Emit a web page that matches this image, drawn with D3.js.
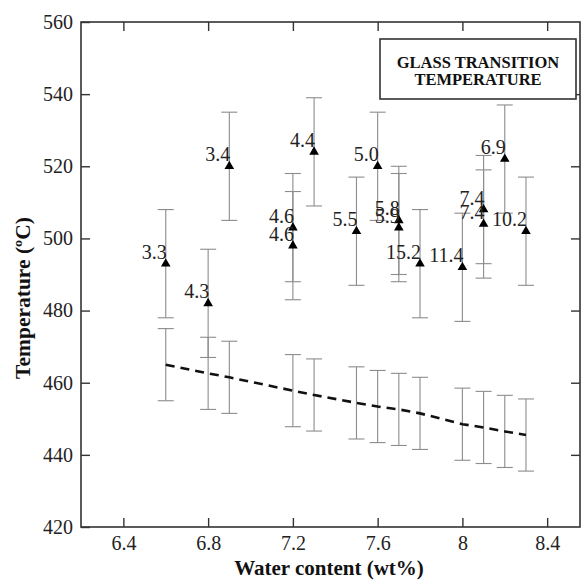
<!DOCTYPE html>
<html>
<head>
<meta charset="utf-8">
<script src="https://cdn.jsdelivr.net/npm/d3@7"></script>
<style>
body { margin: 0; background: #fff; }
text { font-family: "Liberation Serif", "DejaVu Serif", serif; }
</style>
</head>
<body>
<div id="chart"></div>
<script>
// upper series: measured glass transition points (labelled)
var upperX = [6.6, 6.8, 6.9, 7.2, 7.2, 7.3, 7.5, 7.6, 7.7, 7.7, 7.8, 8.0, 8.1, 8.1, 8.2, 8.3];
var upperY = [493, 482, 520, 503, 498, 524, 502, 520, 505, 503, 493, 492, 508, 504, 522, 502];
var upperLabels = ["3.3", "4.3", "3.4", "4.6", "4.6", "4.4", "5.5", "5.0", "5.8", "5.9", "15.2", "11.4", "7.4", "7.4", "6.9", "10.2"];
var upperErr = 15;

// lower series: dashed fit with error bars
var lowerX = [6.6, 6.8, 6.9, 7.2, 7.3, 7.5, 7.6, 7.7, 7.8, 8.0, 8.1, 8.2, 8.3];
var lowerY = [465, 462.6, 461.5, 457.8, 456.6, 454.4, 453.4, 452.6, 451.5, 448.5, 447.6, 446.5, 445.5];
var lowerErr = 10;

var xTicks = [6.4, 6.8, 7.2, 7.6, 8, 8.4];
var yTicks = [420, 440, 460, 480, 500, 520, 540, 560];

// plot area edges (pixels)
var plot = {left: 81, right: 580, top: 22, bottom: 527};

var svg = d3.select("#chart").append("svg")
	.attr("width", 581)
	.attr("height", 581);

var x = d3.scaleLinear().domain([6.2, 8.555]).range([plot.left, plot.right]);
var y = d3.scaleLinear().domain([420, 560]).range([plot.bottom, plot.top]);

var axisColor = "#333";
var tickLen = 9;

// frame
svg.append("rect")
	.attr("x", plot.left).attr("y", plot.top)
	.attr("width", plot.right - plot.left).attr("height", plot.bottom - plot.top)
	.attr("fill", "none")
	.attr("stroke", axisColor)
	.attr("stroke-width", 1.6);

function styleAxis(g) {
	g.select(".domain").remove();
	g.selectAll(".tick line").attr("stroke", axisColor).attr("stroke-width", 1.4);
	g.selectAll(".tick text")
		.attr("fill", "#222")
		.style("font-size", "20px")
		.style("font-family", "'Liberation Serif', serif");
}

// bottom axis with labels
svg.append("g")
	.attr("transform", "translate(0," + plot.bottom + ")")
	.call(d3.axisBottom(x).tickValues(xTicks).tickSizeInner(-tickLen).tickSizeOuter(0)
		.tickPadding(9).tickFormat(d3.format("")))
	.call(styleAxis);

// top axis, ticks only
svg.append("g")
	.attr("transform", "translate(0," + plot.top + ")")
	.call(d3.axisTop(x).tickValues(xTicks).tickSizeInner(-tickLen).tickSizeOuter(0).tickFormat(""))
	.call(styleAxis);

// left axis with labels
svg.append("g")
	.attr("transform", "translate(" + plot.left + ",0)")
	.call(d3.axisLeft(y).tickValues(yTicks).tickSizeInner(-tickLen).tickSizeOuter(0)
		.tickPadding(8).tickFormat(d3.format("")))
	.call(styleAxis);

// right axis, ticks only
svg.append("g")
	.attr("transform", "translate(" + plot.right + ",0)")
	.call(d3.axisRight(y).tickValues(yTicks.slice(1, -1)).tickSizeInner(-tickLen).tickSizeOuter(0).tickFormat(""))
	.call(styleAxis);

// axis titles
svg.append("text")
	.attr("x", 329)
	.attr("y", 575)
	.attr("text-anchor", "middle")
	.style("font-size", "21px")
	.style("font-weight", "bold")
	.attr("fill", "#111")
	.text("Water content (wt%)");

svg.append("text")
	.attr("transform", "translate(30," + 298 + ") rotate(-90)")
	.attr("text-anchor", "middle")
	.style("font-size", "21.5px")
	.style("font-weight", "bold")
	.attr("fill", "#111")
	.text("Temperature (ºC)");

// error bars
var barColor = "#8c8c8c";
var cap = 8;

function errorBars(xs, ys, err) {
	var g = svg.append("g");
	xs.forEach(function(xv, i) {
		var px = x(xv);
		var y0 = y(ys[i] - err), y1 = y(ys[i] + err);
		g.append("line")
			.attr("x1", px).attr("x2", px).attr("y1", y0).attr("y2", y1)
			.attr("stroke", barColor).attr("stroke-width", 1.1);
		[y0, y1].forEach(function(yy) {
			g.append("line")
				.attr("x1", px - cap).attr("x2", px + cap).attr("y1", yy).attr("y2", yy)
				.attr("stroke", barColor).attr("stroke-width", 1.1);
		});
	});
}

errorBars(lowerX, lowerY, lowerErr);
errorBars(upperX, upperY, upperErr);

// dashed line for lower series
var line = d3.line()
	.x(function(d, i) { return x(lowerX[i]); })
	.y(function(d) { return y(d); });

svg.append("path")
	.datum(lowerY)
	.attr("d", line)
	.attr("fill", "none")
	.attr("stroke", "#111")
	.attr("stroke-width", 2.6)
	.attr("stroke-dasharray", "9,6");

// triangle markers
svg.selectAll(".tri")
	.data(upperY)
	.enter().append("path")
	.attr("class", "tri")
	.attr("d", d3.symbol().type(d3.symbolTriangle).size(40))
	.attr("transform", function(d, i) { return "translate(" + x(upperX[i]) + "," + y(d) + ")"; })
	.attr("fill", "#000");

// point labels
svg.selectAll(".lbl")
	.data(upperLabels)
	.enter().append("text")
	.attr("class", "lbl")
	.attr("x", function(d, i) { return x(upperX[i]) + 1; })
	.attr("y", function(d, i) { return y(upperY[i]) - 5; })
	.attr("text-anchor", "end")
	.style("font-size", "20px")
	.attr("fill", "#222")
	.text(function(d) { return d; });

// legend box
svg.append("rect")
	.attr("x", 380).attr("y", 39)
	.attr("width", 196).attr("height", 60)
	.attr("fill", "#fff")
	.attr("stroke", axisColor)
	.attr("stroke-width", 1.6);

svg.append("text")
	.attr("x", 478).attr("y", 68)
	.attr("text-anchor", "middle")
	.style("font-size", "16.5px")
	.style("font-weight", "bold")
	.attr("fill", "#111")
	.text("GLASS TRANSITION");

svg.append("text")
	.attr("x", 478).attr("y", 85)
	.attr("text-anchor", "middle")
	.style("font-size", "16.5px")
	.style("font-weight", "bold")
	.attr("fill", "#111")
	.text("TEMPERATURE");
</script>
</body>
</html>
